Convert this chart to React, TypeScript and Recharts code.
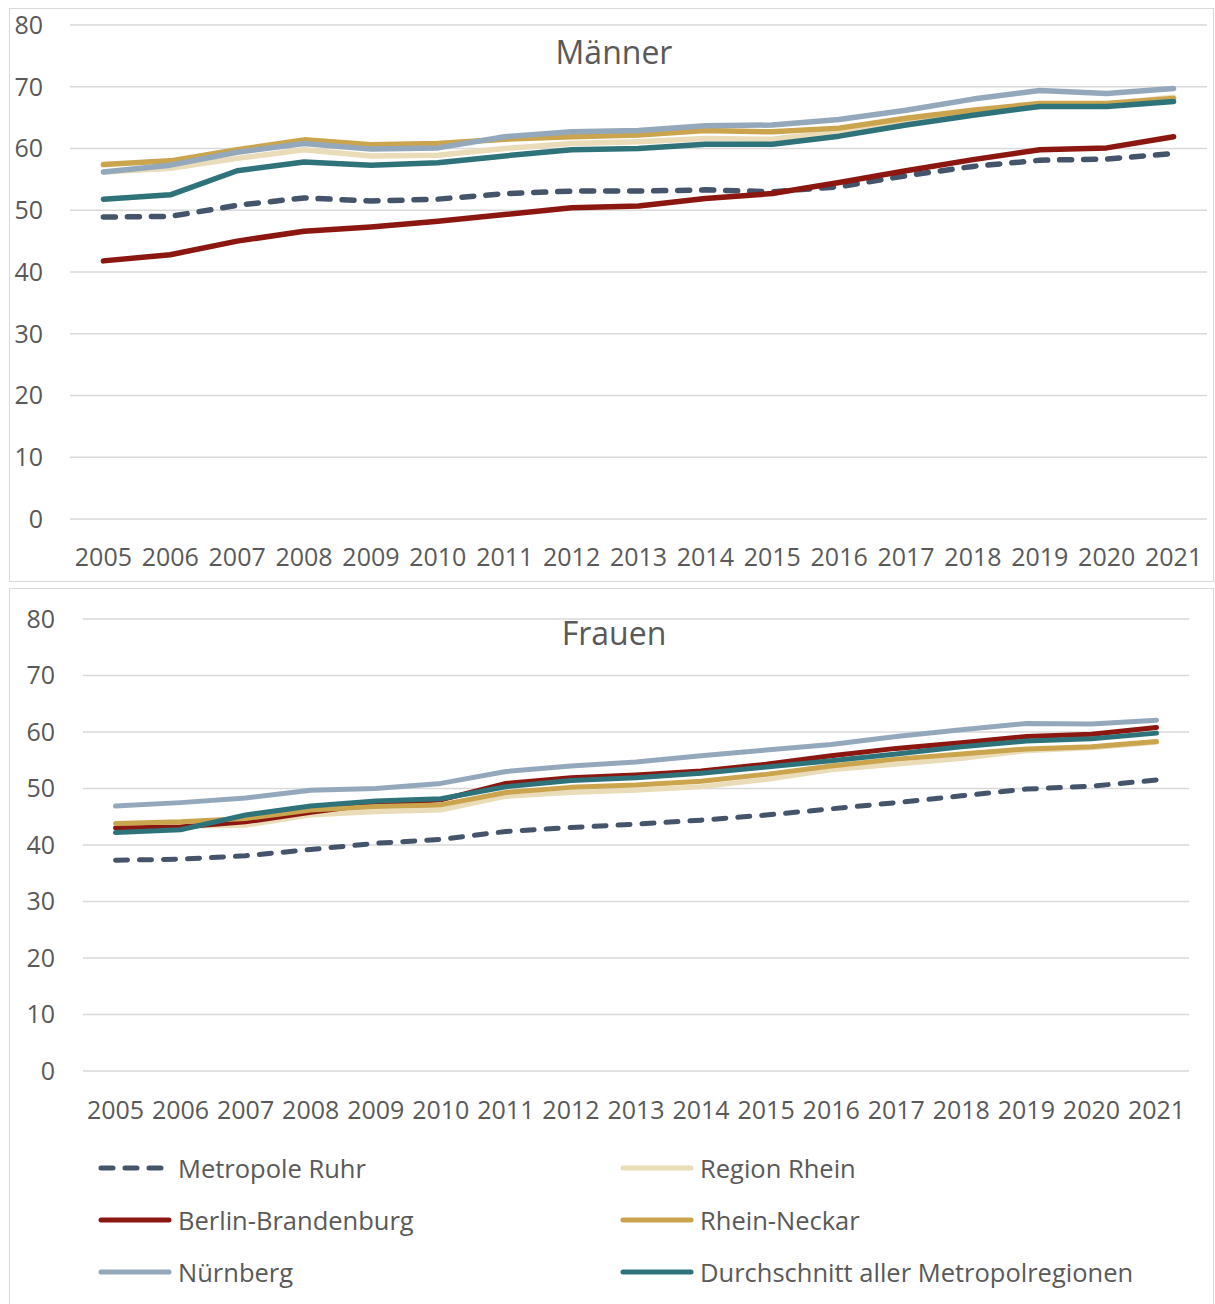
import React from "react";
import { CartesianGrid, Line, LineChart, XAxis, YAxis } from "recharts";

const years = [
  "2005", "2006", "2007", "2008", "2009", "2010", "2011", "2012", "2013",
  "2014", "2015", "2016", "2017", "2018", "2019", "2020", "2021",
];
const yTicks = [0, 10, 20, 30, 40, 50, 60, 70, 80];

// Männer
const ruhrM = [48.9, 49.0, 50.8, 52.0, 51.5, 51.8, 52.7, 53.1, 53.1, 53.3, 53.0, 53.8, 55.6, 57.1, 58.1, 58.3, 59.2];
const rheinM = [56.2, 56.8, 58.4, 59.8, 58.8, 58.9, 60.0, 60.8, 61.1, 61.6, 61.5, 62.7, 64.3, 66.0, 67.2, 67.2, 68.3];
const berlinM = [41.8, 42.8, 45.0, 46.6, 47.3, 48.2, 49.3, 50.4, 50.7, 51.9, 52.7, 54.5, 56.4, 58.2, 59.8, 60.1, 61.9];
const neckarM = [57.4, 58.0, 59.8, 61.4, 60.6, 60.8, 61.5, 61.9, 62.2, 62.9, 62.7, 63.3, 64.9, 66.2, 67.3, 67.3, 68.1];
const nuernbergM = [56.2, 57.3, 59.4, 60.8, 59.9, 60.1, 61.9, 62.7, 62.9, 63.7, 63.8, 64.7, 66.2, 68.0, 69.4, 68.9, 69.7];
const schnittM = [51.8, 52.5, 56.4, 57.8, 57.3, 57.7, 58.8, 59.8, 60.0, 60.7, 60.7, 62.0, 63.8, 65.4, 66.8, 66.8, 67.6];

// Frauen
const ruhrF = [37.3, 37.5, 38.1, 39.2, 40.3, 41.0, 42.4, 43.1, 43.7, 44.4, 45.3, 46.4, 47.5, 48.7, 49.9, 50.4, 51.5];
const rheinF = [43.2, 43.3, 43.5, 45.3, 45.9, 46.2, 48.6, 49.3, 49.7, 50.3, 51.6, 53.3, 54.3, 55.3, 56.7, 57.2, 58.2];
const berlinF = [43.0, 43.2, 44.1, 45.8, 47.3, 48.0, 50.9, 51.9, 52.4, 53.1, 54.3, 55.8, 57.1, 58.1, 59.2, 59.6, 60.8];
const neckarF = [43.8, 44.1, 44.7, 46.2, 46.8, 47.1, 49.3, 50.2, 50.6, 51.3, 52.5, 54.0, 55.2, 56.1, 57.0, 57.4, 58.3];
const nuernbergF = [46.9, 47.5, 48.3, 49.7, 50.0, 50.9, 53.0, 54.0, 54.7, 55.8, 56.8, 57.8, 59.2, 60.4, 61.5, 61.4, 62.1];
const schnittF = [42.2, 42.7, 45.3, 46.9, 47.8, 48.2, 50.3, 51.4, 51.9, 52.7, 53.8, 54.9, 56.1, 57.4, 58.4, 58.8, 59.8];

const series = [
  { key: "ruhr", name: "Metropole Ruhr", color: "#44546A", dashed: true },
  { key: "rhein", name: "Region Rhein", color: "#EADCB8", dashed: false },
  { key: "berlin", name: "Berlin-Brandenburg", color: "#8B1710", dashed: false },
  { key: "neckar", name: "Rhein-Neckar", color: "#CBA44E", dashed: false },
  { key: "nuernberg", name: "Nürnberg", color: "#94A8BC", dashed: false },
  { key: "schnitt", name: "Durchschnitt aller Metropolregionen", color: "#2E737A", dashed: false },
];

const build = (cols: Record<string, number[]>) =>
  years.map((year, i) => {
    const row: Record<string, string | number> = { year };
    Object.keys(cols).forEach((k) => (row[k] = cols[k][i]));
    return row;
  });

const dataM = build({ ruhr: ruhrM, rhein: rheinM, berlin: berlinM, neckar: neckarM, nuernberg: nuernbergM, schnitt: schnittM });
const dataF = build({ ruhr: ruhrF, rhein: rheinF, berlin: berlinF, neckar: neckarF, nuernberg: nuernbergF, schnitt: schnittF });

const FONT = "'Open Sans', sans-serif";
const TEXT = "#595959";
const tickStyle = { fill: TEXT, fontSize: 25, fontFamily: FONT };

function Panel({ data, title, top, height, margin, yWidth, xHeight, pad, yGap, xGap, lineWidth, titleY }: any) {
  return (
    <div style={{ position: "absolute", left: 0, top }}>
      <LineChart width={1215} height={height} data={data} margin={margin}>
        <CartesianGrid vertical={false} stroke="#D9D9D9" strokeWidth={1.5} />
        <XAxis
          dataKey="year"
          axisLine={false}
          tickLine={false}
          tickSize={0}
          tickMargin={xGap}
          height={xHeight}
          interval={0}
          padding={{ left: pad, right: pad }}
          tick={tickStyle}
        />
        <YAxis
          domain={[0, 80]}
          ticks={yTicks}
          width={yWidth}
          axisLine={false}
          tickLine={false}
          tickSize={0}
          tickMargin={yGap}
          tick={tickStyle}
        />
        {series.map((s) => (
          <Line
            key={s.key}
            dataKey={s.key}
            name={s.name}
            type="linear"
            stroke={s.color}
            strokeWidth={lineWidth}
            strokeDasharray={s.dashed ? "12 12" : undefined}
            strokeLinecap="round"
            strokeLinejoin="round"
            dot={false}
            activeDot={false}
            isAnimationActive={false}
          />
        ))}
      </LineChart>
      <div
        style={{
          position: "absolute",
          left: 0,
          width: 1228,
          top: titleY - 22,
          height: 44,
          lineHeight: "44px",
          textAlign: "center",
          fontFamily: FONT,
          fontSize: 32,
          color: TEXT,
        }}
      >
        {title}
      </div>
    </div>
  );
}

function LegendSample({ color, dashed }: { color: string; dashed: boolean }) {
  return (
    <svg width={80} height={12} style={{ display: "block" }}>
      <line
        x1={3}
        y1={6}
        x2={71}
        y2={6}
        stroke={color}
        strokeWidth={5}
        strokeLinecap="round"
        strokeDasharray={dashed ? "12 12" : undefined}
      />
    </svg>
  );
}

function ChartLegend() {
  const rows = [1169, 1221, 1273];
  return (
    <>
      {series.map((s, i) => {
        const col = i % 2;
        const row = Math.floor(i / 2);
        return (
          <div
            key={s.key}
            style={{
              position: "absolute",
              left: col === 0 ? 98 : 620,
              top: rows[row] - 21,
              height: 40,
              display: "flex",
              alignItems: "center",
              fontFamily: FONT,
              fontSize: 25.5,
              color: TEXT,
              whiteSpace: "nowrap",
            }}
          >
            <LegendSample color={s.color} dashed={s.dashed} />
            <span>{s.name}</span>
          </div>
        );
      })}
    </>
  );
}

export default function App() {
  return (
    <div style={{ position: "absolute", left: 0, top: 0, width: 1215, height: 1304, background: "#fff", overflow: "hidden" }}>
      <div style={{ position: "absolute", left: 9, top: 8, width: 1205, height: 574, border: "1.5px solid #D9D9D9", boxSizing: "border-box" }} />
      <div style={{ position: "absolute", left: 9, top: 588, width: 1205, height: 740, border: "1.5px solid #D9D9D9", boxSizing: "border-box" }} />
      <Panel
        data={dataM}
        title="Männer"
        top={0}
        height={582}
        margin={{ top: 25, right: 8, bottom: 0, left: 0 }}
        yWidth={70}
        xHeight={63}
        pad={33.4}
        yGap={27}
        xGap={29}
        lineWidth={5.5}
        titleY={52}
      />
      <Panel
        data={dataF}
        title="Frauen"
        top={588}
        height={716}
        margin={{ top: 31, right: 26, bottom: 163, left: 0 }}
        yWidth={83}
        xHeight={70}
        pad={32.5}
        yGap={28}
        xGap={30}
        lineWidth={5}
        titleY={45}
      />
      <ChartLegend />
    </div>
  );
}
